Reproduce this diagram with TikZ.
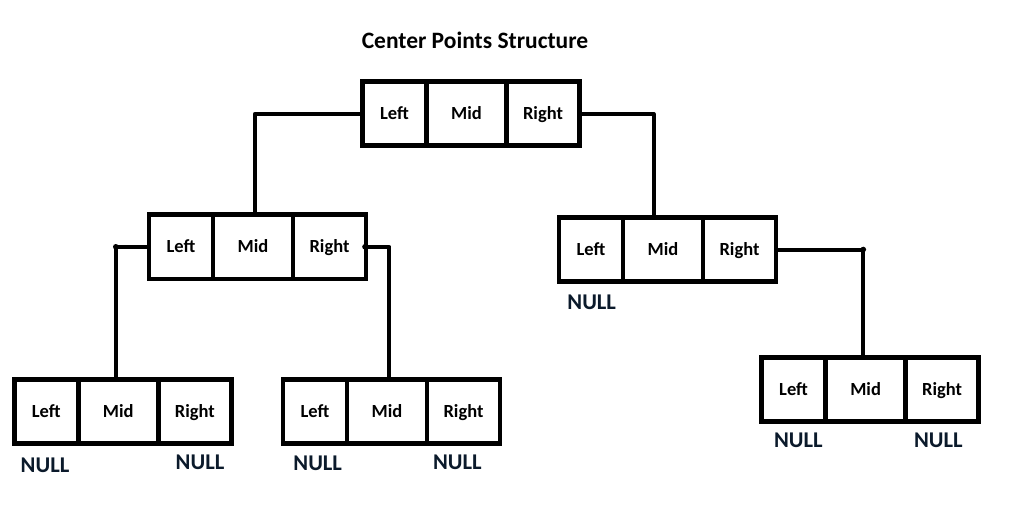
\documentclass[tikz,border=0pt]{standalone}
\usepackage{fontspec}
\setmainfont{Carlito}
\usetikzlibrary{positioning,calc}
\definecolor{Ink}{HTML}{000000}
\definecolor{NullInk}{HTML}{0B1A2B}
\tikzset{
  cell/.style={draw=Ink,line width=4.6pt,minimum height=64pt,inner sep=0pt,outer sep=0pt,text=Ink,text height=12pt,text depth=0pt,font=\bfseries\fontsize{18.5}{20}\selectfont},
  cellL/.style={cell,minimum width=64pt},
  cellM/.style={cell,minimum width=80pt},
  cellR/.style={cell,minimum width=73pt},
  link/.style={Ink,line width=4pt,line join=round},
  nulltag/.style={inner sep=0pt,text=NullInk,font=\bfseries\fontsize{22.5}{24}\selectfont},
  heading/.style={inner sep=0pt,text=Ink,font=\bfseries\fontsize{23.5}{26}\selectfont}
}

\begin{document}
\begin{tikzpicture}[x=1pt,y=-1pt]
\useasboundingbox[fill=white] (0,0) rectangle (1025,505);
\node[heading] (title) at (475,40.5) {Center Points Structure};
% root
\node[cellL,anchor=west] (rootL) at (362.5,113.8) {Left};
\node[cellM,right=0pt of rootL] (rootM) {Mid};
\node[cellR,right=0pt of rootM] (rootR) {Right};
% left child
\node[cellL,anchor=west] (lcL) at (149,246.8) {Left};
\node[cellM,right=0pt of lcL] (lcM) {Mid};
\node[cellR,right=0pt of lcM] (lcR) {Right};
% right child
\node[cellL,anchor=west] (rcL) at (559,249.5) {Left};
\node[cellM,right=0pt of rcL] (rcM) {Mid};
\node[cellR,right=0pt of rcM] (rcR) {Right};
% left child, left
\node[cellL,anchor=west] (llcL) at (14.3,411.2) {Left};
\node[cellM,right=0pt of llcL] (llcM) {Mid};
\node[cellR,right=0pt of llcM] (llcR) {Right};
% left child, right
\node[cellL,anchor=west] (lrcL) at (283,411.2) {Left};
\node[cellM,right=0pt of lrcL] (lrcM) {Mid};
\node[cellR,right=0pt of lrcM] (lrcR) {Right};
% right child, right
\node[cellL,anchor=west] (rrcL) at (761.6,389.2) {Left};
\node[cellM,right=0pt of rrcL] (rrcM) {Mid};
\node[cellR,right=0pt of rrcM] (rrcR) {Right};
% NULL tags
\node[nulltag] (nullA) at (45,465) {NULL};
\node[nulltag] (nullB) at (200,462.5) {NULL};
\node[nulltag] (nullC) at (317.7,463) {NULL};
\node[nulltag] (nullD) at (457.3,462.5) {NULL};
\node[nulltag] (nullE) at (591.7,302.7) {NULL};
\node[nulltag] (nullF) at (798.3,440.5) {NULL};
\node[nulltag] (nullG) at (938.3,440.5) {NULL};
% links
\coordinate (lcIn) at ([xshift=2pt]lcM.north);
\coordinate (rcIn) at ([xshift=-9.5pt]rcM.north);
\coordinate (llcIn) at ([xshift=-2.5pt]llcM.north);
\coordinate (lrcIn) at ([xshift=2.3pt]lrcM.north);
\coordinate (rrcIn) at ([xshift=-2.3pt]rrcM.north);
\draw[link] (rootL.west) -| (lcIn);
\draw[link] (rootR.east) -| (rcIn);
\draw[link] (lcL.west) -| (llcIn);
\draw[link] (lcR.east) -| (lrcIn);
\draw[link] (rcR.east) -| (rrcIn);
\fill[Ink] (lcL.west -| llcIn) circle (2.8);
\fill[Ink] ([xshift=-1pt]lcR.east) circle (2.8);
\fill[Ink] (rcR.east -| rrcIn) circle (2.8);
\end{tikzpicture}
\end{document}
